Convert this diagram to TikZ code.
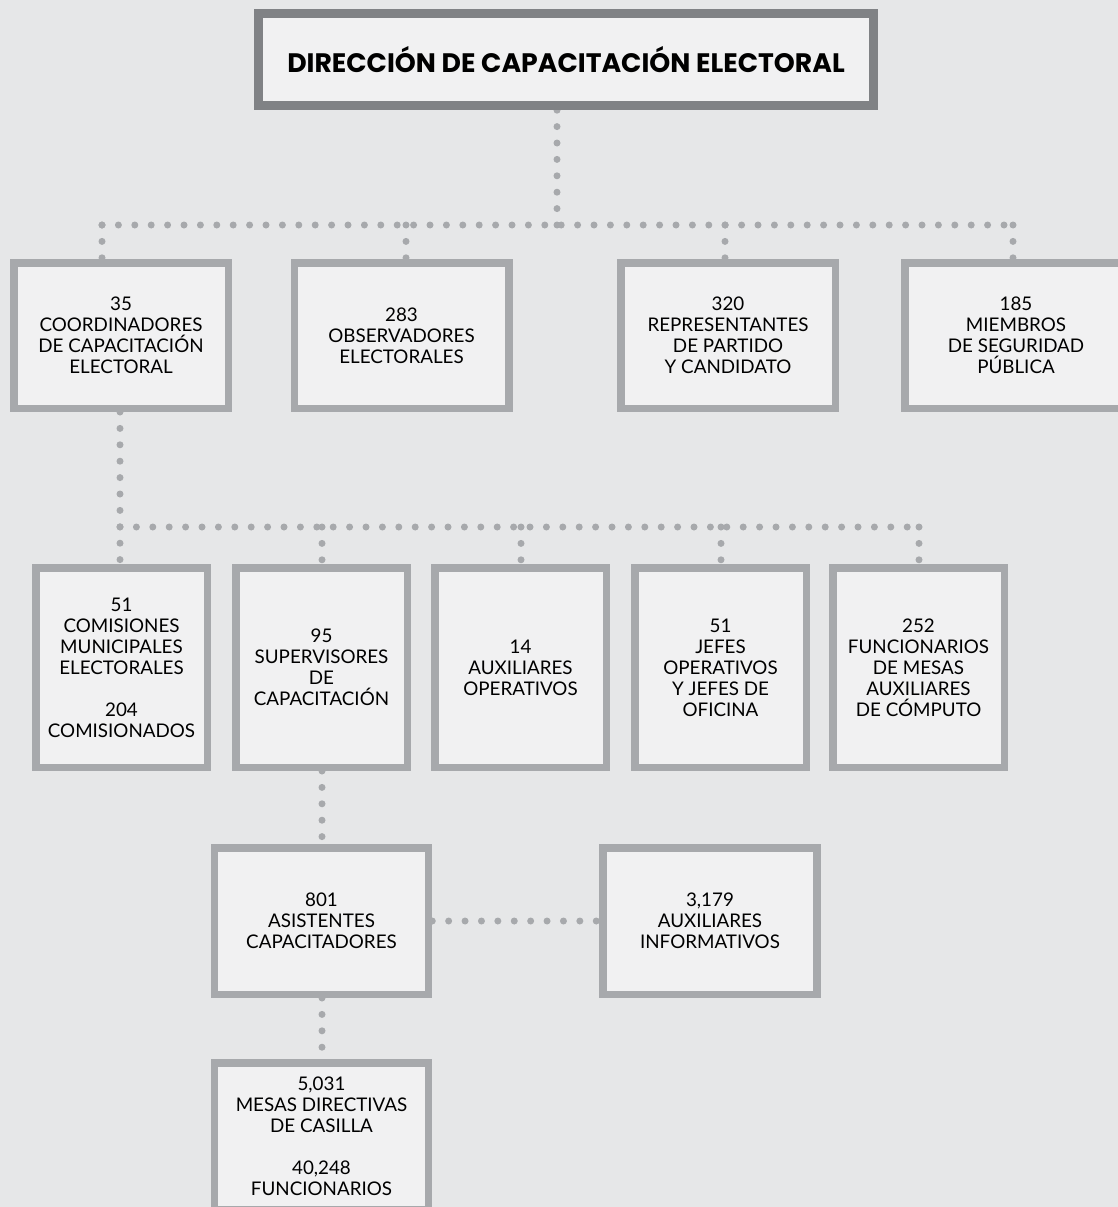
\documentclass[tikz,border=0pt]{standalone}
\usepackage{fontspec}
\setmainfont{Lato}
\newfontfamily\titlefont{Poppins}
\pgfdeclarelayer{bg}
\pgfdeclarelayer{lines}
\pgfsetlayers{bg,lines,main}
\definecolor{bgcol}{HTML}{E6E7E8}
\definecolor{boxfill}{HTML}{F1F1F2}
\definecolor{boxline}{HTML}{A7A9AC}
\definecolor{topline}{HTML}{808285}
\definecolor{dotcol}{HTML}{A7A9AC}
\begin{document}
\begin{tikzpicture}[x=1pt,y=-1pt,
  orgbox/.style={draw=boxline, line width=7.5pt, fill=boxfill, inner sep=0pt, align=center,
    font=\fontsize{18.8}{21}\selectfont},
  rowone/.style={orgbox, minimum width=214.5pt, minimum height=145.5pt},
  rowtwo/.style={orgbox, minimum width=171.5pt, minimum height=199.5pt},
  rowthree/.style={orgbox, minimum width=214pt, minimum height=146.5pt},
  topbox/.style={draw=topline, line width=9pt, fill=boxfill, inner sep=0pt,
    minimum width=615pt, minimum height=92pt, font=\titlefont\bfseries\fontsize{26.7}{32}\selectfont},
  dotline/.style={draw=dotcol, line width=7pt, line cap=round, dash pattern=on 0pt off 16.4pt}]
\useasboundingbox (0,0) rectangle (1118,1207);
\begin{pgfonlayer}{bg}
\fill[bgcol] (0,0) rectangle (1118,1207);
\end{pgfonlayer}

\node[topbox] (T) at (566,59.5) {DIRECCIÓN DE CAPACITACIÓN ELECTORAL};

\node[rowone] (B1) at (121,335.5) {35\\COORDINADORES\\DE CAPACITACIÓN\\ELECTORAL};
\node[rowone] (B2) at (401.5,335.5) {283\\OBSERVADORES\\ELECTORALES};
\node[rowone] (B3) at (728,335.5) {320\\REPRESENTANTES\\DE PARTIDO\\Y CANDIDATO};
\node[rowone, minimum width=222.5pt] (B4) at (1016,335.5) {185\\MIEMBROS\\DE SEGURIDAD\\PÚBLICA};

\node[rowtwo] (A) at (121.5,667.5) {51\\COMISIONES\\MUNICIPALES\\ELECTORALES\\[21pt]204\\COMISIONADOS};
\node[rowtwo] (B) at (321.5,667.5) {95\\SUPERVISORES\\DE\\CAPACITACIÓN};
\node[rowtwo] (C) at (520.5,667.5) {14\\AUXILIARES\\OPERATIVOS};
\node[rowtwo] (D) at (720.5,667.5) {51\\JEFES\\OPERATIVOS\\Y JEFES DE\\OFICINA};
\node[rowtwo] (E) at (918.5,667.5) {252\\FUNCIONARIOS\\DE MESAS\\AUXILIARES\\DE CÓMPUTO};

\node[rowthree] (F) at (321.5,921) {801\\ASISTENTES\\CAPACITADORES};
\node[rowthree] (G) at (710,921) {3,179\\AUXILIARES\\INFORMATIVOS};
\node[rowthree] (H) at (321.5,1136) {5,031\\MESAS DIRECTIVAS\\DE CASILLA\\[21pt]40,248\\FUNCIONARIOS};

\coordinate (j0) at (557,225);
\coordinate (k1) at (102,225);
\coordinate (k2) at (406,225);
\coordinate (k3) at (725,225);
\coordinate (k4) at (1013,225);
\coordinate (m1) at (120,527);
\coordinate (m2) at (322,527);
\coordinate (m3) at (521,527);
\coordinate (m4) at (721,527);
\coordinate (m5) at (919,527);

\begin{pgfonlayer}{lines}
\draw[dotline] (j0) -- (T.south -| j0);
\draw[dotline] (k1) -- (k4);
\draw[dotline] (k1) -- (B1.north -| k1);
\draw[dotline] (k2) -- (B2.north -| k2);
\draw[dotline] (k3) -- (B3.north -| k3);
\draw[dotline] (k4) -- (B4.north -| k4);
\draw[dotline] (B1.south -| m1) -- (A.north -| m1);
\draw[dotline] (m1) -- (m5);
\draw[dotline] (m2) -- (B.north -| m2);
\draw[dotline] (m3) -- (C.north -| m3);
\draw[dotline] (m4) -- (D.north -| m4);
\draw[dotline] (m5) -- (E.north -| m5);
\draw[dotline] (B.south -| m2) -- (F.north -| m2);
\draw[dotline] (F.east) -- (G.west);
\draw[dotline] (F.south -| m2) -- (H.north -| m2);
\end{pgfonlayer}
\end{tikzpicture}
\end{document}
